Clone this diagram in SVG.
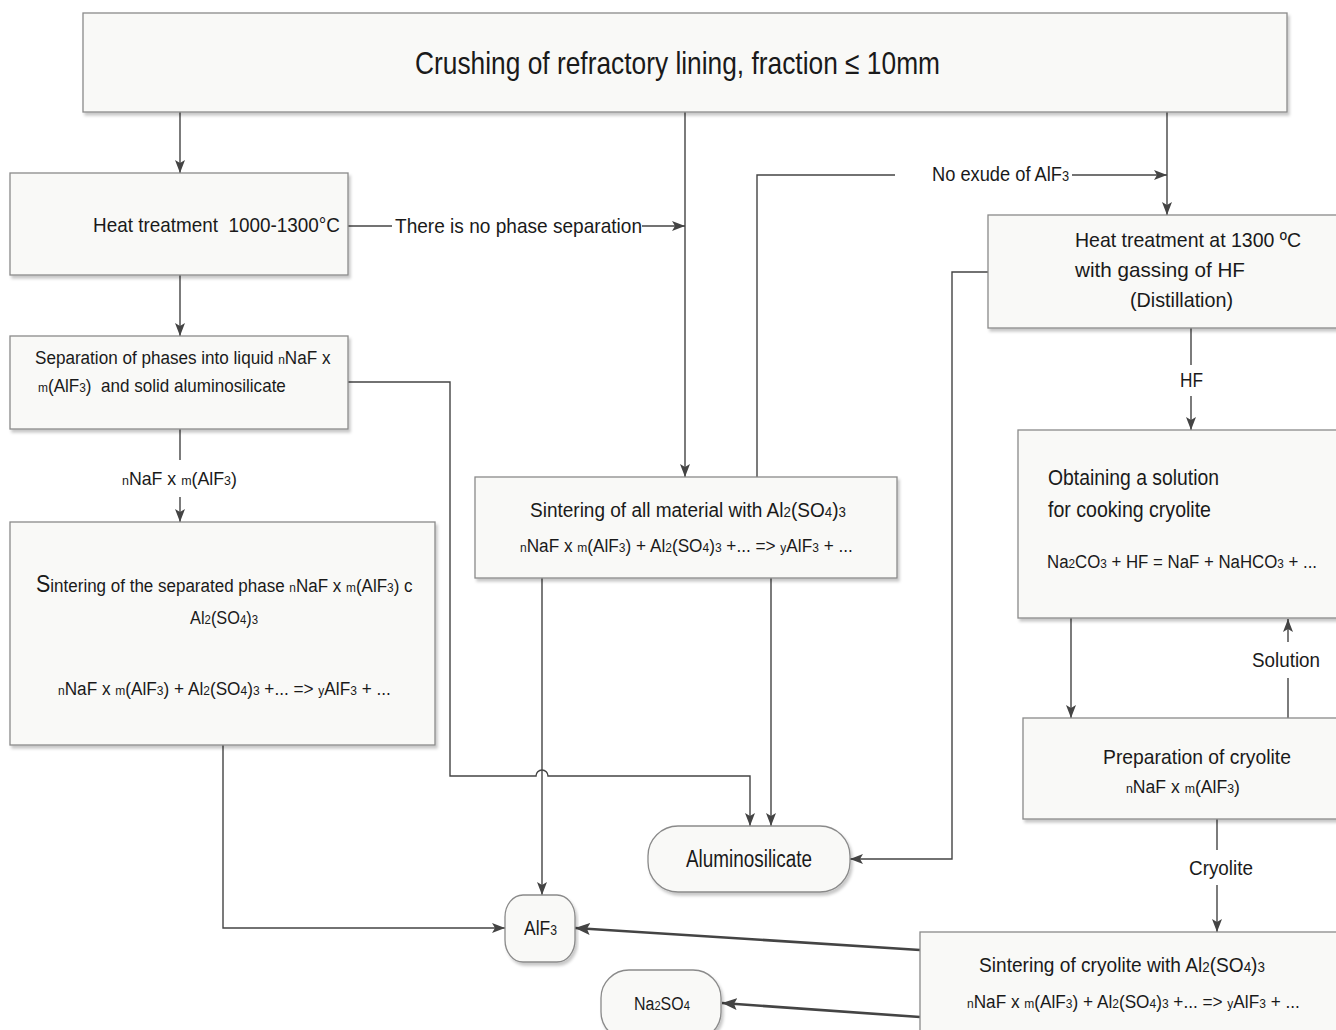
<svg xmlns="http://www.w3.org/2000/svg" width="1336" height="1030" viewBox="0 0 1336 1030">
<style>
.box{fill:#f9f9f7;stroke:#8a8a8a;stroke-width:1.3;filter:url(#sh)}
.t{font-family:"Liberation Sans",Arial,sans-serif;fill:#1a1a1a}
.s{font-size:70%}
.c{stroke:#444;stroke-width:1.4;fill:none}
.ca{stroke:#444;stroke-width:1.4;fill:none;marker-end:url(#ar)}
.thick{stroke:#444;stroke-width:2.6;fill:none;marker-end:url(#ar2)}
</style>
<defs>
<filter id="sh" x="-5%" y="-5%" width="110%" height="115%">
<feDropShadow dx="2" dy="3" stdDeviation="1.5" flood-color="#000" flood-opacity="0.22"/>
</filter>
<marker id="ar" markerUnits="userSpaceOnUse" markerWidth="14" markerHeight="12" refX="13" refY="5" orient="auto">
<path d="M0,0 L13,5 L0,10 L3,5 z" fill="#444"/>
</marker>
<marker id="ar2" markerUnits="userSpaceOnUse" markerWidth="16" markerHeight="14" refX="15" refY="6" orient="auto">
<path d="M0,0 L15,6 L0,12 L3,6 z" fill="#444"/>
</marker>
</defs>
<rect width="1336" height="1030" fill="#fff"/>

<g id="connectors">
<path class="ca" d="M180,112 V173"/>
<path class="ca" d="M685,112 V477"/>
<path class="ca" d="M1167,112 V215"/>
<path class="c" d="M348,226 H392"/>
<path class="ca" d="M642,226 H685"/>
<path class="ca" d="M180,275 V336"/>
<path class="c" d="M180,429 V460"/>
<path class="ca" d="M180,497 V522"/>
<path class="ca" d="M348,382 H450 V776 H536 a6,6 0 0 1 12,0 H750 V826"/>
<path class="ca" d="M542,578 V895"/>
<path class="ca" d="M771,578 V826"/>
<path class="ca" d="M223,745 V928 H505"/>
<path class="c" d="M757,477 V175 H895"/>
<path class="ca" d="M1072,175 H1167"/>
<path class="ca" d="M988,272 H952 V859 H850"/>
<path class="c" d="M1191,328 V365"/>
<path class="ca" d="M1191,396 V430"/>
<path class="ca" d="M1071,618 V718"/>
<path class="c" d="M1288,718 V678"/>
<path class="ca" d="M1288,642 V619"/>
<path class="c" d="M1217,819 V850"/>
<path class="ca" d="M1217,885 V932"/>
<path class="thick" d="M920,950 L575,928"/>
<path class="thick" d="M920,1017 L722,1003"/>
</g>

<g id="n-crushing">
<rect class="box" x="83" y="13" width="1204" height="99"/>
<text class="t" x="415" y="74" font-size="32" textLength="525" lengthAdjust="spacingAndGlyphs">Crushing of refractory lining, fraction ≤ 10mm</text>
</g>

<g id="n-heat">
<rect class="box" x="10" y="173" width="338" height="102"/>
<text class="t" x="93" y="232" font-size="21" textLength="247" lengthAdjust="spacingAndGlyphs" xml:space="preserve">Heat treatment  1000-1300°C</text>
</g>
<text class="t" x="395" y="233" font-size="21" textLength="247" lengthAdjust="spacingAndGlyphs">There is no phase separation</text>

<g id="n-separation">
<rect class="box" x="10" y="336" width="338" height="93"/>
<text class="t" font-size="19" transform="translate(35,364) scale(0.9,1)">Separation of phases into liquid <tspan class="s">n</tspan>NaF x</text>
<text class="t" font-size="19" transform="translate(38,392) scale(0.898,1)"><tspan class="s">m</tspan>(AlF<tspan class="s">3</tspan>)&#160; and solid aluminosilicate</text>
</g>
<text class="t" font-size="19" transform="translate(122,485) scale(0.935,1)"><tspan class="s">n</tspan>NaF x <tspan class="s">m</tspan>(AlF<tspan class="s">3</tspan>)</text>

<g id="n-sinter-separated">
<rect class="box" x="10" y="522" width="425" height="223"/>
<text class="t" font-size="19" transform="translate(36,592) scale(0.895,1)"><tspan font-size="24">S</tspan>intering of the separated phase <tspan class="s">n</tspan>NaF x <tspan class="s">m</tspan>(AlF<tspan class="s">3</tspan>) c</text>
<text class="t" font-size="19" transform="translate(190,624) scale(0.86,1)">Al<tspan class="s">2</tspan>(SO<tspan class="s">4</tspan>)<tspan class="s">3</tspan></text>
<text class="t" font-size="19" transform="translate(58,695) scale(0.905,1)"><tspan class="s">n</tspan>NaF x <tspan class="s">m</tspan>(AlF<tspan class="s">3</tspan>) + Al<tspan class="s">2</tspan>(SO<tspan class="s">4</tspan>)<tspan class="s">3</tspan> +... =&gt; <tspan class="s">y</tspan>AlF<tspan class="s">3</tspan> + ...</text>
</g>

<g id="n-sinter-all">
<rect class="box" x="475" y="477" width="422" height="101"/>
<text class="t" font-size="21" transform="translate(530,517) scale(0.906,1)">Sintering of all material with Al<tspan class="s">2</tspan>(SO<tspan class="s">4</tspan>)<tspan class="s">3</tspan></text>
<text class="t" font-size="19" transform="translate(520,552) scale(0.905,1)"><tspan class="s">n</tspan>NaF x <tspan class="s">m</tspan>(AlF<tspan class="s">3</tspan>) + Al<tspan class="s">2</tspan>(SO<tspan class="s">4</tspan>)<tspan class="s">3</tspan> +... =&gt; <tspan class="s">y</tspan>AlF<tspan class="s">3</tspan> + ...</text>
</g>

<text class="t" font-size="21" transform="translate(932,181) scale(0.87,1)">No exude of AlF<tspan class="s">3</tspan></text>

<g id="n-heat1300">
<rect class="box" x="988" y="215" width="360" height="113"/>
<text class="t" x="1075" y="247" font-size="21" textLength="226" lengthAdjust="spacingAndGlyphs">Heat treatment at 1300 ºC</text>
<text class="t" x="1075" y="277" font-size="21" textLength="170" lengthAdjust="spacingAndGlyphs">with gassing of HF</text>
<text class="t" x="1130" y="307" font-size="21" textLength="103" lengthAdjust="spacingAndGlyphs">(Distillation)</text>
</g>
<text class="t" x="1180" y="387" font-size="21" textLength="23" lengthAdjust="spacingAndGlyphs">HF</text>

<g id="n-obtaining">
<rect class="box" x="1018" y="430" width="330" height="188"/>
<text class="t" x="1048" y="485" font-size="22" textLength="171" lengthAdjust="spacingAndGlyphs">Obtaining a solution</text>
<text class="t" x="1048" y="517" font-size="22" textLength="163" lengthAdjust="spacingAndGlyphs">for cooking cryolite</text>
<text class="t" font-size="19" transform="translate(1047,568) scale(0.885,1)">Na<tspan class="s">2</tspan>CO<tspan class="s">3</tspan> + HF = NaF + NaHCO<tspan class="s">3</tspan> + ...</text>
</g>
<text class="t" x="1252" y="667" font-size="21" textLength="68" lengthAdjust="spacingAndGlyphs">Solution</text>

<g id="n-preparation">
<rect class="box" x="1023" y="718" width="325" height="101"/>
<text class="t" x="1103" y="764" font-size="21" textLength="188" lengthAdjust="spacingAndGlyphs">Preparation of cryolite</text>
<text class="t" font-size="19" transform="translate(1126,793) scale(0.927,1)"><tspan class="s">n</tspan>NaF x <tspan class="s">m</tspan>(AlF<tspan class="s">3</tspan>)</text>
</g>
<text class="t" x="1189" y="875" font-size="21" textLength="64" lengthAdjust="spacingAndGlyphs">Cryolite</text>

<g id="n-sinter-cryolite">
<rect class="box" x="920" y="932" width="428" height="110"/>
<text class="t" font-size="21" transform="translate(979,972) scale(0.911,1)">Sintering of cryolite with Al<tspan class="s">2</tspan>(SO<tspan class="s">4</tspan>)<tspan class="s">3</tspan></text>
<text class="t" font-size="19" transform="translate(967,1008) scale(0.905,1)"><tspan class="s">n</tspan>NaF x <tspan class="s">m</tspan>(AlF<tspan class="s">3</tspan>) + Al<tspan class="s">2</tspan>(SO<tspan class="s">4</tspan>)<tspan class="s">3</tspan> +... =&gt; <tspan class="s">y</tspan>AlF<tspan class="s">3</tspan> + ...</text>
</g>

<g id="n-aluminosilicate">
<rect class="box" x="648" y="826" width="202" height="66" rx="30" ry="30"/>
<text class="t" x="686" y="867" font-size="23" textLength="126" lengthAdjust="spacingAndGlyphs">Aluminosilicate</text>
</g>

<g id="n-alf3">
<rect class="box" x="505" y="895" width="70" height="67" rx="18" ry="22"/>
<text class="t" font-size="20" transform="translate(524,935) scale(0.873,1)">AlF<tspan class="s">3</tspan></text>
</g>

<g id="n-na2so4">
<rect class="box" x="601" y="970" width="120" height="70" rx="28" ry="28"/>
<text class="t" font-size="19" transform="translate(634,1010) scale(0.84,1)">Na<tspan class="s">2</tspan>SO<tspan class="s">4</tspan></text>
</g>
</svg>
